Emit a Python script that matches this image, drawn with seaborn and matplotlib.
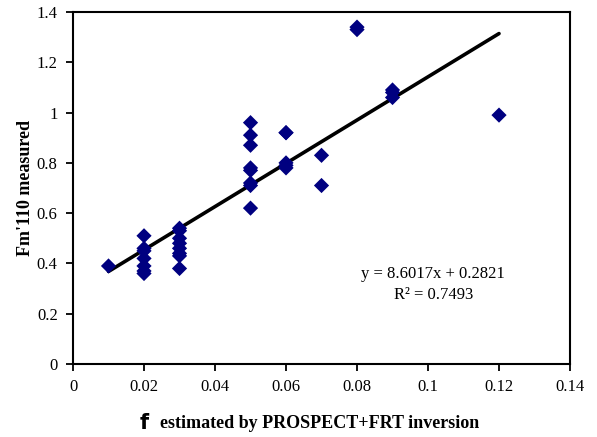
import matplotlib
matplotlib.use("Agg")
import matplotlib.pyplot as plt
import numpy as np
import pandas as pd
import seaborn as sns

# Estimated fraction (x) and measured Fm'110 (y)
f_est = [0.01,
         0.02, 0.02, 0.02, 0.02, 0.02, 0.02, 0.02,
         0.03, 0.03, 0.03, 0.03, 0.03, 0.03, 0.03, 0.03,
         0.05, 0.05, 0.05, 0.05, 0.05, 0.05, 0.05, 0.05,
         0.06, 0.06, 0.06, 0.06, 0.06,
         0.07, 0.07,
         0.08, 0.08,
         0.09, 0.09, 0.09,
         0.12]
fm_measured = [0.39,
               0.51, 0.46, 0.45, 0.42, 0.39, 0.37, 0.36,
               0.54, 0.53, 0.50, 0.48, 0.46, 0.44, 0.43, 0.38,
               0.96, 0.91, 0.87, 0.78, 0.77, 0.72, 0.71, 0.62,
               0.92, 0.92, 0.80, 0.79, 0.78,
               0.83, 0.71,
               1.33, 1.34,
               1.09, 1.08, 1.06,
               0.99]

# Linear trend line
slope = 8.6017
intercept = 0.2821
r_squared = 0.7493
trend_x = [0.01, 0.12]

x_ticks = [0, 0.02, 0.04, 0.06, 0.08, 0.1, 0.12, 0.14]
y_ticks = [0, 0.2, 0.4, 0.6, 0.8, 1, 1.2, 1.4]

sns.set_theme(style="white")
plt.rcParams["font.family"] = ["Liberation Serif", "DejaVu Serif"]
plt.rcParams.update({"text.color": "black", "axes.labelcolor": "black",
                     "xtick.color": "black", "ytick.color": "black"})

fig = plt.figure(figsize=(5.97, 4.37), dpi=100)
ax = fig.add_axes([0.1223, 0.1670, 0.8325, 0.8055])

df = pd.DataFrame({"x": f_est, "y": fm_measured})
sns.scatterplot(data=df, x="x", y="y", ax=ax, marker="D", s=60,
                color="#000080", edgecolor="none", linewidth=0, zorder=3)

trend = pd.DataFrame({"x": trend_x,
                      "y": [slope * v + intercept for v in trend_x]})
sns.lineplot(data=trend, x="x", y="y", ax=ax, color="black",
             linewidth=2.6, zorder=2)

ax.set_xlim(0, 0.14)
ax.set_ylim(0, 1.4)
ax.set_xticks(x_ticks)
ax.set_xticklabels([f"{t:g}" for t in x_ticks])
ax.set_yticks(y_ticks)
ax.set_yticklabels([f"{t:g}" for t in y_ticks])
ax.tick_params(axis="both", which="major", labelsize=12, direction="out",
               length=5, width=1.3, color="black", labelcolor="black", pad=6)
ax.tick_params(axis="x", top=False, bottom=True)
ax.tick_params(axis="y", left=True, right=False)
for side in ["left", "right", "top", "bottom"]:
    ax.spines[side].set_visible(True)
    ax.spines[side].set_color("black")
    ax.spines[side].set_linewidth(1.5)

ax.set_xlabel("")
ax.set_ylabel("Fm'110 measured", fontsize=13, fontweight="bold", labelpad=2,
              color="black")

# x-axis title: symbol followed by description
fig.text(140 / 597, 1 - 423 / 437, "f", fontsize=15, fontweight="bold",
         family=["DejaVu Sans"], ha="left", va="center", color="black")
fig.text(160 / 597, 1 - 424 / 437, "estimated by PROSPECT+FRT inversion",
         fontsize=13, fontweight="bold", ha="left", va="center", color="black")

ax.text(0.1015, 0.36, f"y = {slope:.4f}x + {intercept:.4f}",
        fontsize=12, ha="center", va="center", color="black")
ax.text(0.1015, 0.275, f"R\u00b2 = {r_squared:.4f}",
        fontsize=12, ha="center", va="center", color="black")

fig.savefig("out.png", dpi=100)
